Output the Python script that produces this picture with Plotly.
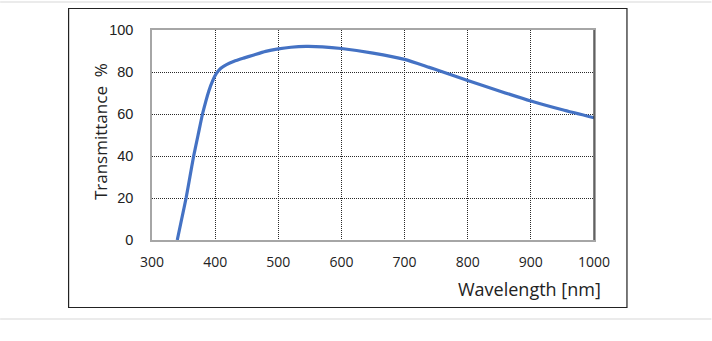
import plotly.graph_objects as go

wavelength = [340, 347, 354, 360, 366, 373, 380, 385, 390, 396, 402, 409, 418, 430, 445,
              460, 480, 500, 520, 544, 570, 600, 650, 700, 739, 755, 800, 850, 900, 950, 1000]
transmittance = [0, 10, 20, 30, 40, 50, 60, 65.8, 71, 75.8, 79.3, 81.8, 83.5, 85.1, 86.6,
                 88, 89.8, 91, 91.8, 92.2, 92, 91.2, 89, 86, 82.2, 80.6, 76, 71, 66.2, 62, 58.2]
x_ticks = [300, 400, 500, 600, 700, 800, 900, 1000]
y_ticks = [0, 20, 40, 60, 80, 100]

W, H = 712, 341
L, R, T, B = 152, 117.5, 30, 101
pw, ph = W - L - R, H - T - B

def px(x):
    return (x - L) / pw

def py(y):
    return 1 - (y - T) / ph

fig = go.Figure()
fig.add_trace(go.Scatter(x=wavelength, y=transmittance, mode="lines",
                         line=dict(color="#4472C4", width=3.2, shape="spline", smoothing=0.6),
                         hoverinfo="skip", showlegend=False))

grid = dict(showgrid=True, gridcolor="#2a2a2a", griddash="1px,1px", gridwidth=1,
            showline=True, linecolor="#a6a6a6", linewidth=1.5, mirror=True,
            zeroline=False, ticks="")

fig.update_layout(
    width=W, height=H,
    margin=dict(l=L, r=R, t=T, b=B, pad=0),
    paper_bgcolor="white", plot_bgcolor="white",
    xaxis=dict(range=[300, 1000], tickvals=x_ticks, ticktext=[str(v) for v in x_ticks],
               ticklabelstandoff=8,
               tickfont=dict(family="Open Sans", size=14, color="#222"), **grid),
    yaxis=dict(range=[0, 100], tickvals=y_ticks, ticktext=[str(v) for v in y_ticks],
               ticklabelstandoff=14,
               tickfont=dict(family="Liberation Sans", size=14.5, color="#222"), **grid),
    shapes=[
        dict(type="rect", xref="paper", yref="paper", x0=px(68.5), x1=px(627.5),
             y0=py(307.5), y1=py(8.5), line=dict(color="#222", width=1.2), layer="below"),
        dict(type="line", xref="paper", yref="paper", x0=px(0), x1=px(712),
             y0=py(2), y1=py(2), line=dict(color="#e4e4e4", width=1.5)),
        dict(type="line", xref="paper", yref="paper", x0=px(0), x1=px(712),
             y0=py(319), y1=py(319), line=dict(color="#e4e4e4", width=1.5)),
        dict(type="line", xref="paper", yref="paper", x0=1, x1=1, y0=0, y1=1,
             line=dict(color="#333", width=1.2)),
    ],
    annotations=[
        dict(text="Wavelength [nm]", xref="paper", yref="paper", x=px(604), y=py(289),
             xanchor="right", yanchor="middle", showarrow=False,
             font=dict(family="Open Sans", size=18, color="#222")),
        dict(text="Transmittance  %", xref="paper", yref="paper", x=px(100), y=py(132),
             xanchor="center", yanchor="middle", showarrow=False, textangle=-90,
             font=dict(family="Open Sans", size=17, color="#222")),
    ],
)

fig.write_html("out.html", config={"displayModeBar": False},
               post_script="document.body.style.margin='0';document.body.style.padding='0';")
